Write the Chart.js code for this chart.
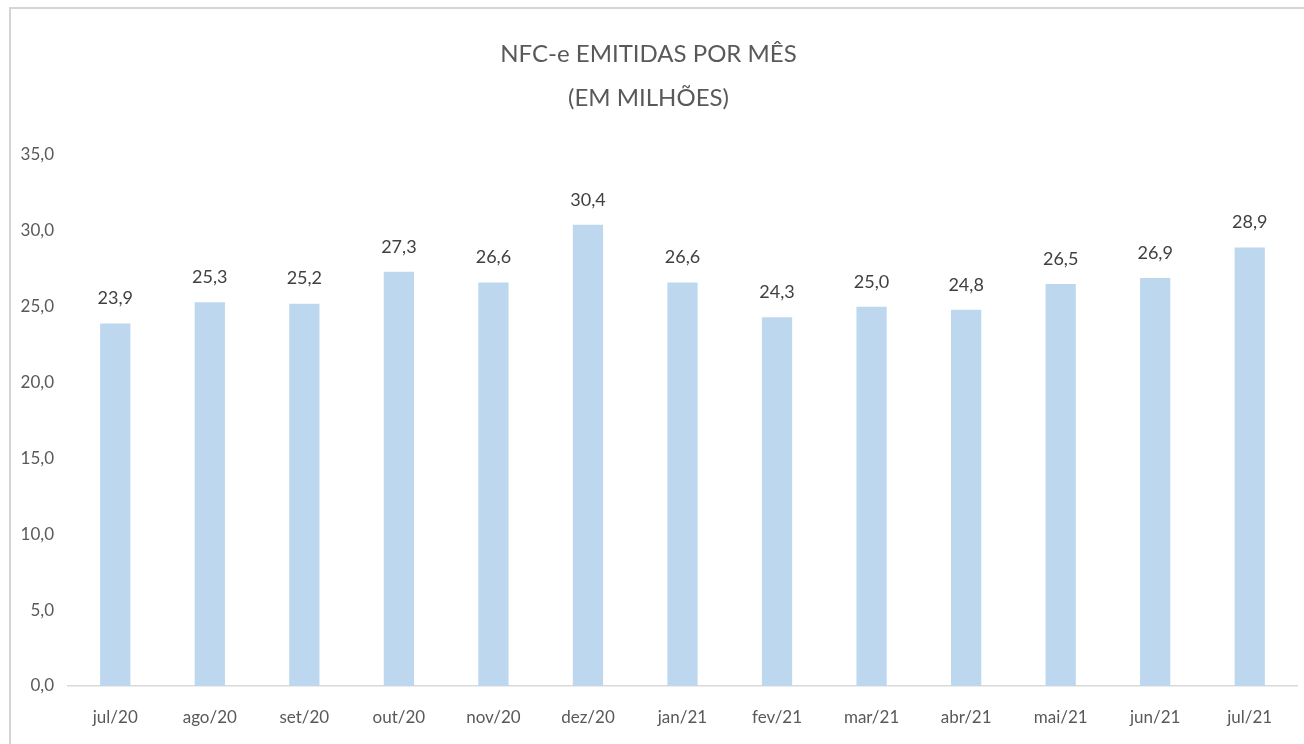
<!DOCTYPE html>
<html>
<head>
<meta charset="utf-8">
<script src="https://cdn.jsdelivr.net/npm/chart.js@4/dist/chart.umd.min.js"></script>
<style>
  html, body { margin: 0; padding: 0; background: #fff; }
  #wrap { width: 1304px; height: 744px; position: relative; }
</style>
</head>
<body>
<div id="wrap"><canvas id="nfceChart"></canvas></div>
<script>
const months = ['jul/20', 'ago/20', 'set/20', 'out/20', 'nov/20', 'dez/20', 'jan/21',
                'fev/21', 'mar/21', 'abr/21', 'mai/21', 'jun/21', 'jul/21'];
const emitidas = [23.9, 25.3, 25.2, 27.3, 26.6, 30.4, 26.6, 24.3, 25.0, 24.8, 26.5, 26.9, 28.9];
const titleLines = ['NFC-e EMITIDAS POR MÊS', '(EM MILHÕES)'];

const fontFamily = 'Lato, "DejaVu Sans Condensed", sans-serif';
const textGray = '#595959';

function fmt(v) {
    return v.toFixed(1).replace('.', ',');
}

// frame around the whole chart, like the Excel chart area border
const framePlugin = {
    id: 'frame',
    beforeDraw(chart) {
        const ctx = chart.ctx;
        ctx.save();
        ctx.strokeStyle = '#d4d4d4';
        ctx.lineWidth = 2;
        ctx.strokeRect(10, 8, chart.width + 20, chart.height + 20);
        ctx.restore();
    }
};

// value labels above each bar
const valueLabels = {
    id: 'valueLabels',
    afterDatasetsDraw(chart) {
        const ctx = chart.ctx;
        const meta = chart.getDatasetMeta(0);
        ctx.save();
        ctx.font = '18px ' + fontFamily;
        ctx.fillStyle = '#404040';
        ctx.textAlign = 'center';
        ctx.textBaseline = 'middle';
        meta.data.forEach((bar, i) => {
            ctx.fillText(fmt(emitidas[i]), bar.x, bar.y - 25);
        });
        ctx.restore();
    }
};

new Chart(document.getElementById('nfceChart'), {
    type: 'bar',
    data: {
        labels: months,
        datasets: [{
            data: emitidas,
            backgroundColor: '#bdd7ee',
            borderWidth: 0,
            categoryPercentage: 1,
            barPercentage: 0.32
        }]
    },
    options: {
        responsive: true,
        maintainAspectRatio: false,
        animation: false,
        layout: { padding: { top: 0, right: 7, bottom: 0, left: 0 } },
        plugins: {
            legend: { display: false },
            tooltip: { enabled: false },
            title: {
                display: true,
                text: titleLines,
                color: textGray,
                font: { family: fontFamily, size: 24, weight: 'normal', lineHeight: 44 / 24 },
                padding: { top: 32, bottom: 35 }
            }
        },
        scales: {
            x: {
                grid: { display: false, drawTicks: false },
                border: { display: true, color: '#d9d9d9', width: 1.5 },
                ticks: {
                    color: textGray,
                    padding: 21,
                    maxRotation: 0,
                    font: { family: fontFamily, size: 17 }
                },
                afterFit(scale) { scale.height = 58; }
            },
            y: {
                min: 0,
                max: 35,
                grid: { display: false, drawTicks: false },
                border: { display: false },
                ticks: {
                    stepSize: 5,
                    color: textGray,
                    padding: 14,
                    font: { family: fontFamily, size: 17 },
                    callback: v => fmt(v)
                },
                afterFit(scale) { scale.width = 68; }
            }
        }
    },
    plugins: [framePlugin, valueLabels]
});
</script>
</body>
</html>
